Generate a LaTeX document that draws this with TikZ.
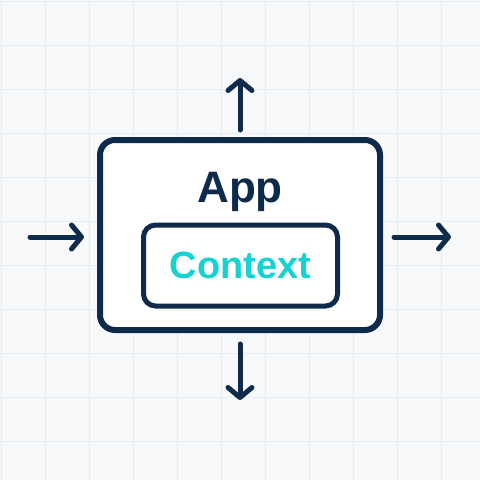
\documentclass[tikz,border=0pt]{standalone}
\usepackage{fontspec}
\setmainfont{Liberation Sans}
\usetikzlibrary{arrows.meta}
\definecolor{navy}{HTML}{0F2B4C}
\definecolor{cyanish}{HTML}{14D3D0}
\definecolor{bgc}{HTML}{F8F9FA}
\definecolor{gridc}{HTML}{E9ECEF}
\tikzset{
  outerbox/.style={draw=navy, fill=white, line width=6pt, rounded corners=15pt,
    minimum width=280pt, minimum height=190pt, inner sep=0pt},
  innerbox/.style={draw=navy, fill=white, line width=5pt, rounded corners=12pt,
    minimum width=194pt, minimum height=81pt, inner sep=0pt,
    text=cyanish, font=\fontsize{38}{38}\selectfont\bfseries},
  applabel/.style={text=navy, font=\fontsize{44}{44}\selectfont\bfseries, inner sep=0pt, anchor=base},
  arr/.style={draw=navy, line width=5pt, line cap=round,
    -{Straight Barb[length=10pt, width=24pt, round]}},
}
\begin{document}
\begin{tikzpicture}[x=1pt, y=-1pt]
  \fill[bgc] (0,0) rectangle (480,480);
  \useasboundingbox (0,0) rectangle (480,480);
  \foreach \k in {0,...,10} {
    \draw[gridc, line width=1pt] ({1+44*\k},0) -- ({1+44*\k},480);
    \draw[gridc, line width=1pt] (0,{1+44*\k}) -- (480,{1+44*\k});
  }
  \node[outerbox] (app) at (240,235) {};
  \node[applabel] (apptext) at (240,202) {App};
  \node[innerbox] (ctx) at (240.5,265.5) {Context};
  \coordinate (ls) at (30,237);  \coordinate (le) at (84,237);
  \coordinate (rs) at (394,237); \coordinate (re) at (451,237);
  \coordinate (us) at (240,130); \coordinate (ue) at (240,78);
  \coordinate (ds) at (240,344); \coordinate (de) at (240,400);
  \draw[arr] (ls) -- (le);
  \draw[arr] (rs) -- (re);
  \draw[arr] (us) -- (ue);
  \draw[arr] (ds) -- (de);
\end{tikzpicture}
\end{document}
